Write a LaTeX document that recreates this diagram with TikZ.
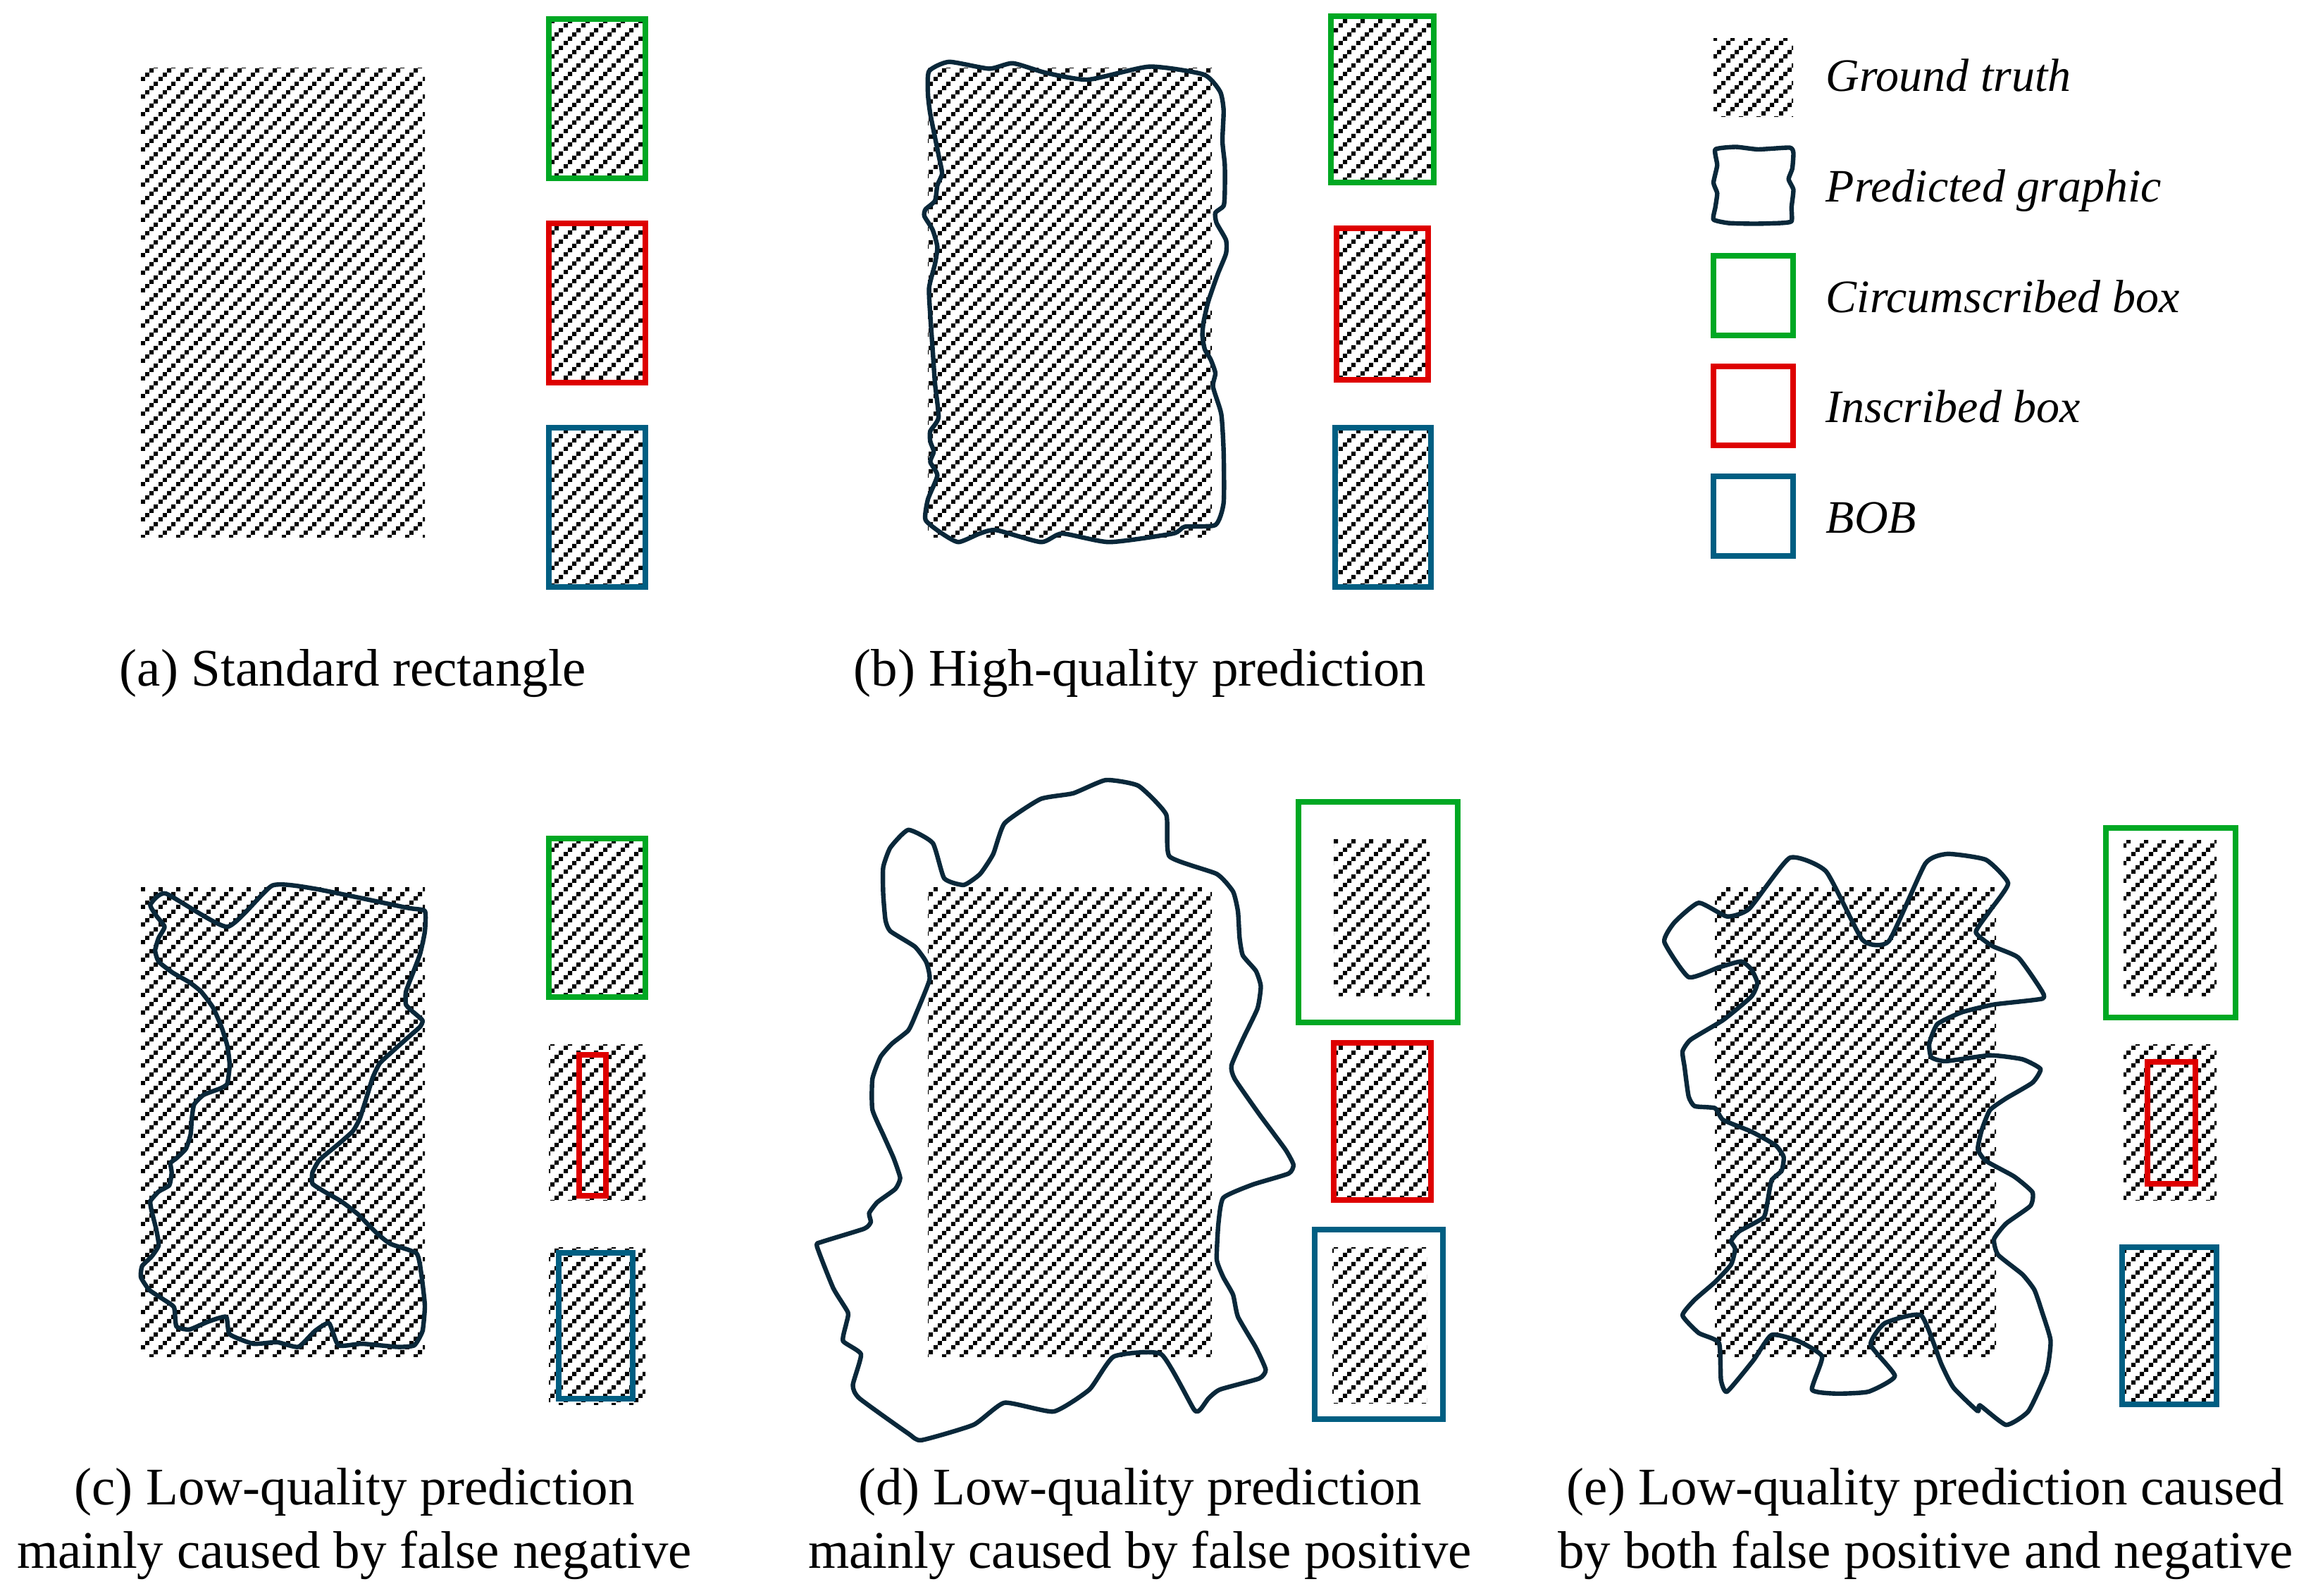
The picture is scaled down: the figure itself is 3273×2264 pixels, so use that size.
\documentclass[tikz,border=0pt]{standalone}
\usepackage{fontspec}
\setmainfont{Liberation Serif}
\usetikzlibrary{patterns}
\definecolor{cgreen}{RGB}{0,168,35}
\definecolor{cred}{RGB}{222,0,0}
\definecolor{cblue}{RGB}{0,94,130}
\definecolor{navy}{RGB}{10,40,58}
\pgfdeclarepatternformonly{gtdots}{\pgfqpoint{0pt}{0pt}}{\pgfqpoint{6.25pt}{6.25pt}}{\pgfqpoint{6.25pt}{6.25pt}}{%
  \pgfpathrectangle{\pgfqpoint{0.01pt}{0.01pt}}{\pgfqpoint{1.54pt}{1.54pt}}%
  \pgfpathrectangle{\pgfqpoint{1.5725pt}{1.5725pt}}{\pgfqpoint{1.54pt}{1.54pt}}%
  \pgfpathrectangle{\pgfqpoint{3.135pt}{3.135pt}}{\pgfqpoint{1.54pt}{1.54pt}}%
  \pgfpathrectangle{\pgfqpoint{4.6975pt}{4.6975pt}}{\pgfqpoint{1.54pt}{1.54pt}}%
  \pgfusepath{fill}}
\tikzset{
  gt/.style={pattern=gtdots},
  gbox/.style={draw=cgreen, line width=1.9pt},
  rbox/.style={draw=cred, line width=1.9pt},
  bbox/.style={draw=cblue, line width=1.9pt},
  outl/.style={draw=navy, line width=1.6pt, line join=round},
  captxt/.style={font=\fontsize{18.75pt}{22.5pt}\selectfont, anchor=base, inner sep=0pt},
  legtxt/.style={font=\fontsize{16.5pt}{20pt}\selectfont\itshape, anchor=base west, inner sep=0pt}
}
\begin{document}
\begin{tikzpicture}[x=0.25pt, y=-0.25pt]
\useasboundingbox (0,0) rectangle (3273,2264);
% ---------- (a) ----------
\fill[gt] (200,96) rectangle (603,762);
\fill[gt] (779,27) rectangle (916,253);
\draw[gbox] (779,27) rectangle (916,253);
\fill[gt] (779,317) rectangle (916,543);
\draw[rbox] (779,317) rectangle (916,543);
\fill[gt] (779,607) rectangle (916,833);
\draw[bbox] (779,607) rectangle (916,833);
\node[captxt] (capa) at (501,973) {(a) Standard rectangle};
% ---------- (b) ----------
\fill[gt] (1317,96) rectangle (1720,762);
\begin{scope}[shift={(1317,96)}, xscale={403/1205}, yscale={666/1375}, shift={(-110,-75)}]
\draw[outl] plot[smooth cycle, tension=0.35] coordinates {
(115,85) (200,58) (370,78) (470,62) (610,90) (790,110) (1050,72) (1280,95) (1350,145)
(1365,200) (1360,290) (1370,360) (1370,440) (1365,480) (1330,500) (1335,530) (1375,580)
(1375,620) (1340,680) (1300,760) (1280,820) (1275,860) (1285,900) (1310,930) (1330,970)
(1320,1010) (1355,1090) (1365,1200) (1365,1350) (1330,1415) (1200,1420) (1150,1440)
(880,1465) (680,1440) (590,1465) (400,1430) (330,1440) (240,1465) (170,1440) (100,1400)
(110,1340) (150,1270) (120,1230) (135,1200) (120,1170) (120,1140) (155,1100) (140,1000)
(130,900) (120,800) (115,720) (140,650) (150,600) (130,550) (95,510) (100,490) (140,465)
(150,420) (170,385) (155,330) (120,210) (110,150)};
\end{scope}
\fill[gt] (1889,23) rectangle (2035,259);
\draw[gbox] (1889,23) rectangle (2035,259);
\fill[gt] (1897,324) rectangle (2027,539);
\draw[rbox] (1897,324) rectangle (2027,539);
\fill[gt] (1895,607) rectangle (2031,833);
\draw[bbox] (1895,607) rectangle (2031,833);
\node[captxt] (capb) at (1618,973) {(b) High-quality prediction};
% ---------- legend ----------
\fill[gt] (2432,54) rectangle (2545,165);
\begin{scope}[shift={(2432,207)}, xscale={115/218}, yscale={112/225}, shift={(-60,-345)}]
\draw[outl] plot[smooth cycle, tension=0.3] coordinates {
(65,355) (120,348) (180,355) (265,350) (275,365) (272,410) (262,440) (275,470) (270,520)
(270,560) (240,565) (170,567) (100,565) (60,555) (65,520) (70,480) (60,450) (70,400)};
\end{scope}
\draw[gbox] (2432,363) rectangle (2545,476);
\draw[rbox] (2432,520) rectangle (2545,632);
\draw[bbox] (2432,676) rectangle (2545,789);
\node[legtxt] (lg1) at (2591,129) {Ground truth};
\node[legtxt] (lg2) at (2591,286) {Predicted graphic};
\node[legtxt] (lg3) at (2591,443) {Circumscribed box};
\node[legtxt] (lg4) at (2591,599) {Inscribed box};
\node[legtxt] (lg5) at (2591,756) {BOB};
% ---------- (c) ----------
\fill[gt] (200,1259) rectangle (603,1925);
\begin{scope}[shift={(200,1259)}, xscale={403/1200}, yscale={666/1480}, shift={(-65,-60)}]
\draw[outl] plot[smooth cycle, tension=0.3] coordinates {
(105,115) (170,80) (430,185) (620,55) (800,65) (1190,125) (1265,135) (1265,200)
(1245,270) (1215,330) (1185,390) (1185,430) (1210,450) (1255,480) (1245,500) (1200,530)
(1140,570) (1075,615) (1045,660) (1020,720) (990,790) (960,830) (900,870) (820,920)
(790,960) (790,995) (840,1020) (910,1050) (980,1090) (1060,1150) (1120,1185) (1230,1215)
(1250,1280) (1265,1380) (1255,1460) (1220,1505) (1150,1510) (1000,1500) (900,1505)
(860,1435) (800,1460) (730,1510) (640,1495) (540,1500) (440,1470) (425,1415) (350,1430)
(270,1455) (215,1445) (205,1385) (160,1360) (100,1330) (65,1290) (70,1255) (110,1225)
(140,1190) (130,1140) (110,1080) (105,1050) (140,1020) (185,1000) (195,960) (190,930)
(215,915) (255,885) (275,840) (280,790) (290,745) (330,715) (400,695) (430,680) (440,620)
(430,560) (405,500) (370,440) (320,390) (270,360) (200,330) (140,295) (125,260) (140,220)
(165,185) (130,150)};
\end{scope}
\fill[gt] (779,1190) rectangle (916,1415);
\draw[gbox] (779,1190) rectangle (916,1415);
\fill[gt] (779,1482) rectangle (916,1703);
\draw[rbox] (822,1497) rectangle (860,1697);
\fill[gt] (779,1770) rectangle (916,1993);
\draw[bbox] (793,1778) rectangle (898,1985);
\node[captxt] (capc1) at (503,2135) {(c) Low-quality prediction};
\node[captxt] (capc2) at (503,2225) {mainly caused by false negative};
% ---------- (d) ----------
\fill[gt] (1317,1259) rectangle (1720,1925);
\begin{scope}[shift={(1317,1259)}, xscale={403/870}, yscale={666/1065}, shift={(-385,-285)}]
\draw[outl] plot[smooth cycle, tension=0.3] coordinates {
(325,155) (400,185) (435,265) (495,280) (545,255) (585,210) (620,140) (730,85) (830,72)
(930,42) (1030,55) (1115,120) (1125,215) (1270,255) (1320,295) (1335,340) (1340,400)
(1350,440) (1390,475) (1405,510) (1395,560) (1350,630) (1315,690) (1325,720) (1400,800)
(1480,880) (1505,915) (1490,935) (1380,960) (1290,990) (1275,1050) (1270,1130) (1290,1170)
(1320,1210) (1335,1260) (1390,1330) (1420,1380) (1400,1400) (1280,1425) (1245,1445)
(1220,1470) (1200,1470) (1100,1345) (955,1350) (880,1425) (770,1475) (620,1455) (525,1505)
(365,1540) (325,1525) (175,1445) (155,1415) (180,1345) (125,1315) (135,1275) (140,1250)
(95,1195) (45,1100) (60,1090) (190,1060) (210,1045) (205,1025) (230,1000) (285,970)
(300,945) (280,900) (250,850) (215,790) (215,720) (240,670) (275,640) (325,610) (350,570)
(390,495) (380,455) (345,420) (270,385) (255,360) (248,300) (248,240) (270,195)};
\end{scope}
\draw[gbox] (1843,1138) rectangle (2069,1451);
\fill[gt] (1893,1190) rectangle (2029,1413);
\fill[gt] (1893,1480) rectangle (2031,1703);
\draw[rbox] (1893,1480) rectangle (2031,1703);
\draw[bbox] (1866,1745) rectangle (2048,2014);
\fill[gt] (1891,1770) rectangle (2025,1991);
\node[captxt] (capd1) at (1618,2135) {(d) Low-quality prediction};
\node[captxt] (capd2) at (1618,2225) {mainly caused by false positive};
% ---------- (e) ----------
\fill[gt] (2434,1259) rectangle (2833,1925);
\begin{scope}[shift={(2434,1259)}, xscale={399/695}, yscale={666/1200}, shift={(-180,-160)}]
\draw[outl] plot[smooth cycle, tension=0.3] coordinates {
(55,300) (80,250) (140,200) (210,235) (265,215) (365,85) (455,120) (545,295) (610,298)
(700,100) (755,75) (850,90) (905,150) (860,220) (825,275) (865,310) (930,340) (985,420)
(990,445) (870,460) (790,480) (730,510) (710,560) (715,595) (750,605) (860,590) (940,600)
(985,625) (965,660) (900,700) (860,730) (840,780) (830,830) (850,860) (920,900) (965,940)
(960,975) (900,1020) (870,1060) (880,1100) (940,1150) (970,1190) (990,1250) (1010,1320)
(1000,1400) (955,1500) (900,1535) (835,1485) (830,1500) (770,1440) (740,1380) (690,1255)
(600,1275) (565,1330) (625,1410) (560,1450) (480,1455) (420,1445) (445,1360) (385,1320)
(320,1305) (275,1370) (210,1450) (195,1420) (190,1325) (140,1300) (100,1255) (130,1215)
(180,1170) (220,1125) (230,1085) (220,1065) (240,1040) (300,1005) (310,965) (320,910)
(345,885) (350,850) (330,820) (270,785) (200,755) (180,725) (130,720) (115,695) (105,620)
(100,580) (120,550) (200,500) (270,440) (285,405) (270,370) (245,350) (190,365) (115,390)};
\end{scope}
\draw[gbox] (2989,1175) rectangle (3173,1444);
\fill[gt] (3014,1192) rectangle (3146,1413);
\fill[gt] (3014,1482) rectangle (3146,1703);
\draw[rbox] (3048,1507) rectangle (3116,1680);
\fill[gt] (3012,1770) rectangle (3146,1993);
\draw[bbox] (3012,1770) rectangle (3146,1993);
\node[captxt] (cape1) at (2733,2135) {(e) Low-quality prediction caused};
\node[captxt] (cape2) at (2733,2225) {by both false positive and negative};
\end{tikzpicture}
\end{document}
